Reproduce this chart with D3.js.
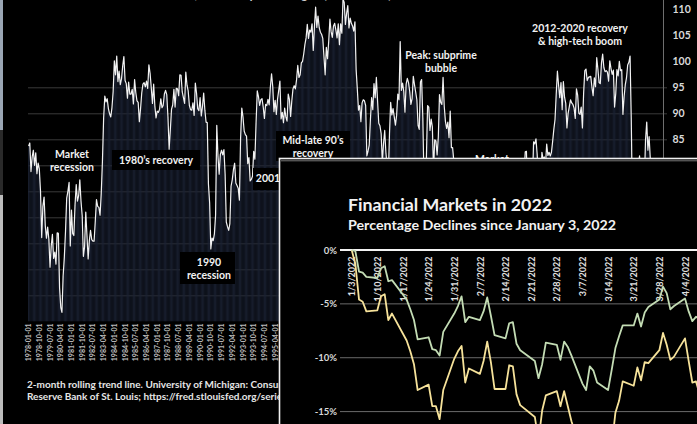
<!DOCTYPE html>
<html>
<head>
<meta charset="utf-8">
<script src="https://cdn.jsdelivr.net/npm/d3@7"></script>
<style>
html, body { margin: 0; padding: 0; background: #000; overflow: hidden; }
svg { display: block; font-family: Lato, 'Open Sans', sans-serif; font-weight: 700; }
</style>
</head>
<body>
<div id="chart"></div>
<script>
// University of Michigan consumer sentiment, monthly from 1978-01
var startYear = 1978
var sentiment = [
  83.7, 84.3, 78.8, 81.6, 82.9, 80.0, 82.4, 78.4, 80.4, 79.3, 75.0, 66.1,
  72.1, 73.9, 68.4, 66.0, 68.1, 65.8, 60.4, 64.5, 66.7, 62.1, 63.3, 61.0,
  67.0, 66.9, 56.5, 52.7, 51.7, 58.7, 62.3, 67.3, 73.7, 75.0, 76.7, 64.5,
  71.4, 66.9, 66.5, 72.4, 76.3, 73.1, 74.1, 77.2, 73.1, 70.3, 62.5, 64.3,
  71.0, 66.5, 62.0, 65.5, 67.5, 65.7, 65.4, 65.4, 69.3, 73.4, 72.1, 71.9,
  70.4, 74.6, 80.8, 89.1, 93.3, 92.2, 92.8, 90.9, 89.9, 89.3, 91.1, 94.2,
  100.1, 97.4, 101.0, 96.1, 98.1, 95.5, 96.6, 99.1, 100.9, 96.3, 95.7, 92.9,
  96.0, 93.7, 93.7, 94.6, 91.8, 96.5, 94.0, 92.4, 92.1, 88.4, 90.9, 93.9,
  95.6, 95.9, 95.1, 96.2, 94.8, 99.3, 97.7, 94.9, 91.9, 95.6, 91.4, 89.1,
  90.4, 90.2, 90.8, 92.8, 91.1, 91.5, 93.7, 94.4, 93.6, 89.3, 83.1, 86.8,
  90.8, 91.6, 94.6, 91.2, 94.8, 94.7, 93.4, 97.4, 97.3, 94.1, 93.0, 91.9,
  97.9, 95.4, 94.3, 91.5, 90.7, 90.6, 92.0, 89.6, 95.8, 93.9, 90.9, 90.5,
  93.0, 89.5, 91.3, 93.9, 90.6, 88.3, 88.2, 76.4, 72.8, 63.9, 66.0, 65.5,
  66.8, 70.4, 87.7, 81.8, 78.3, 82.1, 82.9, 82.0, 83.0, 78.3, 69.1, 68.2,
  67.5, 68.8, 76.0, 77.2, 79.2, 80.4, 76.6, 76.1, 75.6, 73.3, 85.3, 91.0,
  89.3, 86.6, 85.9, 85.6, 80.3, 81.5, 77.0, 77.3, 77.9, 82.7, 81.2, 88.2,
  94.3, 93.2, 91.5, 92.6, 92.8, 91.2, 89.0, 91.7, 91.5, 92.7, 91.6, 95.1,
  97.6, 95.1, 90.3, 92.5, 89.8, 92.7, 94.4, 96.2, 88.9, 90.2, 88.2, 91.0,
  89.3, 88.5, 93.7, 92.7, 89.4, 92.4, 94.7, 95.3, 94.7, 96.5, 99.2, 96.9,
  97.4, 99.7, 100.0, 101.4, 103.2, 104.5, 107.1, 104.4, 106.0, 105.6, 107.2, 102.1,
  106.6, 110.4, 106.5, 108.7, 106.5, 105.6, 105.2, 104.4, 100.9, 97.4, 102.7, 100.5,
  103.9, 108.1, 105.7, 104.6, 106.8, 107.3, 106.0, 104.5, 107.2, 103.2, 107.2, 105.4,
  112.0, 111.3, 107.1, 109.2, 110.7, 106.4, 108.3, 107.3, 106.8, 105.8, 107.6, 98.4,
  94.7, 90.6, 91.5, 88.4, 92.0, 92.6, 92.4, 91.5, 81.8, 82.7, 83.9, 88.8,
  93.0, 90.7, 95.7, 93.0, 96.9, 92.4, 88.1, 87.6, 86.1, 80.6, 84.2, 86.7,
  82.4, 79.9, 77.6, 86.0, 92.1, 89.7, 90.9, 89.3, 87.7, 89.6, 93.7, 92.6,
  103.8, 94.4, 95.8, 94.2, 90.2, 95.6, 96.7, 95.9, 94.2, 91.7, 92.8, 97.1,
  95.5, 94.1, 92.6, 87.7, 86.9, 96.0, 96.5, 89.1, 76.9, 74.2, 81.6, 91.5,
  91.2, 86.7, 88.9, 87.4, 79.1, 84.9, 84.7, 82.0, 85.4, 93.6, 92.1, 91.7,
  96.9, 91.3, 88.4, 87.1, 88.3, 85.3, 90.4, 83.4, 83.4, 80.9, 76.1, 75.5,
  78.4, 70.8, 69.5, 62.6, 59.8, 56.4, 61.2, 63.0, 70.3, 57.6, 55.3, 60.1,
  61.2, 56.3, 57.3, 65.1, 68.7, 70.8, 66.0, 65.7, 73.5, 70.6, 67.4, 72.5,
  74.4, 73.6, 73.6, 72.2, 73.6, 76.0, 67.8, 68.9, 68.2, 67.7, 71.6, 74.5,
  74.2, 77.5, 67.5, 69.8, 74.3, 71.5, 63.7, 55.8, 59.5, 60.8, 63.7, 69.9,
  75.0, 75.3, 76.2, 76.4, 79.3, 73.2, 72.3, 74.3, 78.3, 82.6, 82.7, 72.9,
  73.8, 77.6, 78.6, 76.4, 84.5, 84.1, 85.1, 82.1, 77.5, 73.2, 75.1, 82.5,
  81.2, 81.6, 80.0, 84.1, 81.9, 82.5, 81.8, 82.5, 84.6, 86.9, 88.8, 93.6,
  98.1, 95.4, 93.0, 95.9, 90.7, 96.1, 93.1, 91.9, 87.2, 90.0, 91.3, 92.6,
  92.0, 91.7, 91.0, 89.0, 94.7, 93.5, 90.0, 89.8, 91.2, 87.2, 93.8, 98.2,
  98.5, 96.3, 96.9, 97.0, 97.1, 95.0, 93.4, 96.8, 95.1, 100.7, 98.5, 95.9,
  95.7, 99.7, 101.4, 98.8, 98.0, 98.2, 97.9, 96.2, 100.1, 98.6, 97.5, 98.3,
  91.2, 93.8, 98.4, 97.2, 100.0, 98.2, 98.4, 89.8, 93.2, 95.5, 96.8, 99.3,
  99.8, 101.0, 89.1, 71.8, 72.3, 78.1, 72.5, 74.1, 80.4, 81.8, 76.9, 80.7,
  79.0, 76.8, 84.9, 88.3, 82.9, 85.5, 81.2, 70.3, 72.8, 71.7, 67.4, 70.6,
  67.2, 62.8, 59.4, 65.2, 58.4, 50.0
]
var sentTicks = [85, 90, 95, 100, 105, 110]
var sentGrid = [55, 60, 65, 70, 75, 80, 85, 90, 95]

// 2022 inset: trading days and % change since Jan 3
var days = ['2022-01-03', '2022-01-04', '2022-01-05', '2022-01-06', '2022-01-07',
  '2022-01-10', '2022-01-11', '2022-01-12', '2022-01-13', '2022-01-14',
  '2022-01-18', '2022-01-19', '2022-01-20', '2022-01-21',
  '2022-01-24', '2022-01-25', '2022-01-26', '2022-01-27', '2022-01-28',
  '2022-01-31', '2022-02-01', '2022-02-02', '2022-02-03', '2022-02-04',
  '2022-02-07', '2022-02-08', '2022-02-09', '2022-02-10', '2022-02-11',
  '2022-02-14', '2022-02-15', '2022-02-16', '2022-02-17', '2022-02-18',
  '2022-02-22', '2022-02-23', '2022-02-24', '2022-02-25',
  '2022-02-28', '2022-03-01', '2022-03-02', '2022-03-03', '2022-03-04',
  '2022-03-07', '2022-03-08', '2022-03-09', '2022-03-10', '2022-03-11',
  '2022-03-14', '2022-03-15', '2022-03-16', '2022-03-17', '2022-03-18',
  '2022-03-21', '2022-03-22', '2022-03-23', '2022-03-24', '2022-03-25',
  '2022-03-28', '2022-03-29', '2022-03-30', '2022-03-31', '2022-04-01',
  '2022-04-04', '2022-04-05', '2022-04-06', '2022-04-07', '2022-04-08']
var greenPct = [0, -0.1, -2.0, -2.1, -2.5, -2.6, -1.7, -1.5, -2.9, -2.8,
  -4.6, -5.5, -6.5, -8.3, -8.1, -9.2, -9.3, -9.8, -7.6,
  -5.9, -5.2, -4.3, -6.7, -6.2, -6.5, -5.7, -4.4, -6.1, -7.9,
  -8.2, -6.8, -6.7, -8.7, -9.3, -10.3, -11.9, -10.6, -8.6,
  -8.8, -10.2, -8.5, -9.0, -9.8, -12.4, -13.0, -10.8, -11.2, -12.3,
  -13.0, -11.1, -9.1, -8.0, -7.0, -7.0, -5.9, -7.1, -5.8, -5.3,
  -4.6, -3.4, -4.0, -5.5, -5.2, -4.5, -5.7, -6.6, -6.2, -6.4]
var yellowPct = [0, -1.3, -4.6, -4.8, -5.7, -5.6, -4.3, -4.1, -6.5, -5.9,
  -8.4, -9.4, -10.6, -13.0, -12.5, -14.5, -14.5, -15.7, -13.0,
  -10.1, -9.4, -8.9, -12.3, -11.0, -11.5, -10.3, -8.5, -10.4, -12.9,
  -12.9, -10.7, -10.8, -13.4, -14.4, -15.5, -17.7, -14.9, -13.5,
  -13.1, -14.5, -13.1, -14.5, -15.9, -19.0, -19.2, -16.3, -17.1, -18.9,
  -20.5, -18.2, -15.1, -14.0, -12.2, -12.6, -10.9, -12.1, -10.4, -10.5,
  -9.3, -7.7, -8.8, -10.2, -9.9, -8.2, -10.3, -12.3, -12.2, -13.4]
var pctTicks = [0, -5, -10, -15]
var weekTicks = ['2022-01-03', '2022-01-10', '2022-01-17', '2022-01-24', '2022-01-31',
  '2022-02-07', '2022-02-14', '2022-02-21', '2022-02-28', '2022-03-07',
  '2022-03-14', '2022-03-21', '2022-03-28', '2022-04-04']

var W = 697,
    H = 424

var svg = d3.select('#chart')
    .append('svg')
    .attr('width', W)
    .attr('height', H)

svg.append('rect').attr('width', W).attr('height', H).attr('fill', '#000')

// ---------- background chart ----------
var months = sentiment.map(function (d, i) {
    var yr = startYear + Math.floor(i / 12), m = i % 12 + 1
    return yr + '-' + (m < 10 ? '0' + m : m) + '-01'
})

var x = d3.scaleBand()
    .domain(months)
    .range([28, 664])
    .paddingInner(0.3)
    .paddingOuter(0.15)

var y = d3.scaleLinear()
    .domain([50, 110])
    .range([321.3, 9.3])

// title, cropped at the top edge as in the screenshot
svg.append('text')
    .text('Consumer Sentiment Index, University of Michigan (1966 = 100)')
    .attr('x', 50)
    .attr('y', -1)
    .attr('fill', '#d0d0d0')
    .style('font-size', '12px')

// grid
svg.selectAll('.grid')
    .data(sentGrid)
    .enter()
    .append('line')
    .attr('x1', 28)
    .attr('x2', 667)
    .attr('y1', d => y(d) + 0.5)
    .attr('y2', d => y(d) + 0.5)
    .attr('stroke', '#3a3a3a')

// bars
svg.append('g')
    .selectAll('rect')
    .data(sentiment)
    .enter()
    .append('rect')
    .attr('x', (d, i) => x(months[i]))
    .attr('width', x.bandwidth())
    .attr('y', d => y(d))
    .attr('height', d => y(50) - y(d))
    .attr('fill', '#1b2234')

// trend line
var line = d3.line()
    .x((d, i) => x(months[i]) + x.bandwidth() / 2)
    .y(d => y(d))

svg.append('path')
    .datum(sentiment)
    .attr('d', line)
    .attr('fill', 'none')
    .attr('stroke', '#f2f2f2')
    .attr('stroke-width', 1.2)
    .attr('stroke-linejoin', 'round')

// right axis
svg.append('line')
    .attr('x1', 663.5).attr('x2', 663.5)
    .attr('y1', 0).attr('y2', 322)
    .attr('stroke', '#6e6e6e')

var yaxis = d3.axisRight(y).tickValues(sentTicks).tickSize(0).tickPadding(9)
var yg = svg.append('g')
    .attr('transform', 'translate(663.5, 0)')
    .call(yaxis)
yg.select('.domain').remove()
yg.selectAll('text')
    .attr('fill', '#d9d9d9')
    .style('font-size', '10.5px')
    .style('font-family', 'Lato, sans-serif')
    .style('font-weight', '700')

// bottom axis with every 9th month
var xaxis = d3.axisBottom(x)
    .tickValues(months.filter((d, i) => i % 9 === 0))
    .tickSize(0)
var xg = svg.append('g')
    .attr('transform', 'translate(0, 321.5)')
    .call(xaxis)
xg.select('.domain').remove()
xg.selectAll('text')
    .attr('transform', 'rotate(-90)')
    .attr('text-anchor', 'end')
    .attr('x', -2)
    .attr('y', 0)
    .attr('dy', '0.35em')
    .attr('fill', '#bdbdbd')
    .style('font-size', '7px')
    .style('font-family', 'Lato, sans-serif')
    .style('font-weight', '700')

// annotations
var notes = [
    { lines: ['Market', 'recession'], x: 72, y: 158, box: null },
    { lines: ["1980\u2019s recovery"], x: 156, y: 164, box: [112, 150, 88, 20] },
    { lines: ['1990', 'recession'], x: 209, y: 266, box: [180, 252, 55, 32] },
    { lines: ['2001'], x: 268, y: 182, box: [253, 168, 30, 22] },
    { lines: ["Mid-late 90\u2019s", 'recovery'], x: 313, y: 144, box: [276, 131, 74, 30] },
    { lines: ['Peak: subprime', 'bubble'], x: 441, y: 59, box: null },
    { lines: ['Market', 'crash'], x: 492, y: 163, box: [470, 153, 45, 30] },
    { lines: ['2012-2020 recovery', '& high-tech boom'], x: 580, y: 32, box: null }
]
notes.forEach(function (n) {
    if (n.box) {
        svg.append('rect')
            .attr('x', n.box[0]).attr('y', n.box[1])
            .attr('width', n.box[2]).attr('height', n.box[3])
            .attr('fill', '#000')
    }
    n.lines.forEach(function (t, k) {
        svg.append('text')
            .text(t)
            .attr('x', n.x)
            .attr('y', n.y + k * 12.6)
            .attr('text-anchor', 'middle')
            .attr('fill', '#f2f2f2')
            .style('font-size', '10.5px')
    })
})

// source note
svg.append('text')
    .text('2-month rolling trend line. University of Michigan: Consumer Sentiment [UMCSENT], retrieved from FRED, Federal')
    .attr('x', 27)
    .attr('y', 388)
    .attr('fill', '#e6e6e6')
    .style('font-size', '10px')
svg.append('text')
    .text('Reserve Bank of St. Louis; https://fred.stlouisfed.org/series/UMCSENT')
    .attr('x', 27)
    .attr('y', 400)
    .attr('fill', '#e6e6e6')
    .style('font-size', '10px')

// window edge on the left
svg.append('rect').attr('x', 0).attr('y', 0).attr('width', 3).attr('height', 130).attr('fill', '#9aa6b4')
svg.append('rect').attr('x', 0).attr('y', 130).attr('width', 3).attr('height', 65).attr('fill', '#2a2a2a')
svg.append('rect').attr('x', 0).attr('y', 195).attr('width', 3).attr('height', 229).attr('fill', '#bcbcbc')

// ---------- inset: Financial Markets in 2022 ----------
var inset = svg.append('g')

inset.append('rect')
    .attr('x', 279.5)
    .attr('y', 158.5)
    .attr('width', W)
    .attr('height', H)
    .attr('fill', '#000')
    .attr('stroke', '#f0f0f0')
    .attr('stroke-width', 1.6)
inset.append('line')
    .attr('x1', 281).attr('x2', W)
    .attr('y1', 160.8).attr('y2', 160.8)
    .attr('stroke', '#777')

var parse = d3.utcParse('%Y-%m-%d')

var ix = d3.scaleUtc()
    .domain([parse('2022-01-03'), parse('2022-04-04')])
    .range([351.7, 685])

var iy = d3.scaleLinear()
    .domain([0, -15])
    .range([250, 411.6])

inset.append('text')
    .text('Financial Markets in 2022')
    .attr('x', 348)
    .attr('y', 210.5)
    .attr('fill', '#f2f2f2')
    .style('font-size', '17.5px')
    .attr('textLength', 204)
    .attr('lengthAdjust', 'spacingAndGlyphs')

inset.append('text')
    .text('Percentage Declines since January 3, 2022')
    .attr('x', 348)
    .attr('y', 229.5)
    .attr('fill', '#f2f2f2')
    .style('font-size', '13.5px')
    .attr('textLength', 268)
    .attr('lengthAdjust', 'spacingAndGlyphs')

// gridlines
inset.selectAll('.igrid')
    .data(pctTicks)
    .enter()
    .append('line')
    .attr('x1', 340)
    .attr('x2', W)
    .attr('y1', d => iy(d))
    .attr('y2', d => iy(d))
    .attr('stroke', d => d === 0 ? '#f2f2f2' : '#6a6a6a')
    .attr('stroke-width', d => d === 0 ? 2 : 1)

var iyaxis = d3.axisLeft(iy).tickValues(pctTicks).tickSize(0).tickPadding(3).tickFormat(d => d + '%')
var iyg = inset.append('g')
    .attr('transform', 'translate(340, 0)')
    .call(iyaxis)
iyg.select('.domain').remove()
iyg.selectAll('text')
    .attr('fill', '#d9d9d9')
    .style('font-size', '9.5px')
    .style('font-family', 'Lato, sans-serif')
    .style('font-weight', '700')

var ixaxis = d3.axisBottom(ix)
    .tickValues(weekTicks.map(parse))
    .tickFormat(d3.utcFormat('%-m/%-d/%Y'))
    .tickSize(0)
var ixg = inset.append('g')
    .attr('transform', 'translate(0, 250)')
    .call(ixaxis)
ixg.select('.domain').remove()
ixg.selectAll('text')
    .attr('transform', 'rotate(-90)')
    .attr('text-anchor', 'end')
    .attr('x', -6.5)
    .attr('y', 0)
    .attr('dy', '0.35em')
    .attr('fill', '#e0e0e0')
    .style('font-size', '9px')
    .style('font-family', 'Lato, sans-serif')
    .style('font-weight', '700')

var iline = d3.line()
    .x((d, i) => ix(parse(days[i])))
    .y(d => iy(d))

inset.append('path')
    .datum(yellowPct)
    .attr('d', iline)
    .attr('fill', 'none')
    .attr('stroke', '#f6e29a')
    .attr('stroke-width', 1.8)
    .attr('stroke-linejoin', 'round')

inset.append('path')
    .datum(greenPct)
    .attr('d', iline)
    .attr('fill', 'none')
    .attr('stroke', '#c3dcb4')
    .attr('stroke-width', 1.8)
    .attr('stroke-linejoin', 'round')
</script>
</body>
</html>
